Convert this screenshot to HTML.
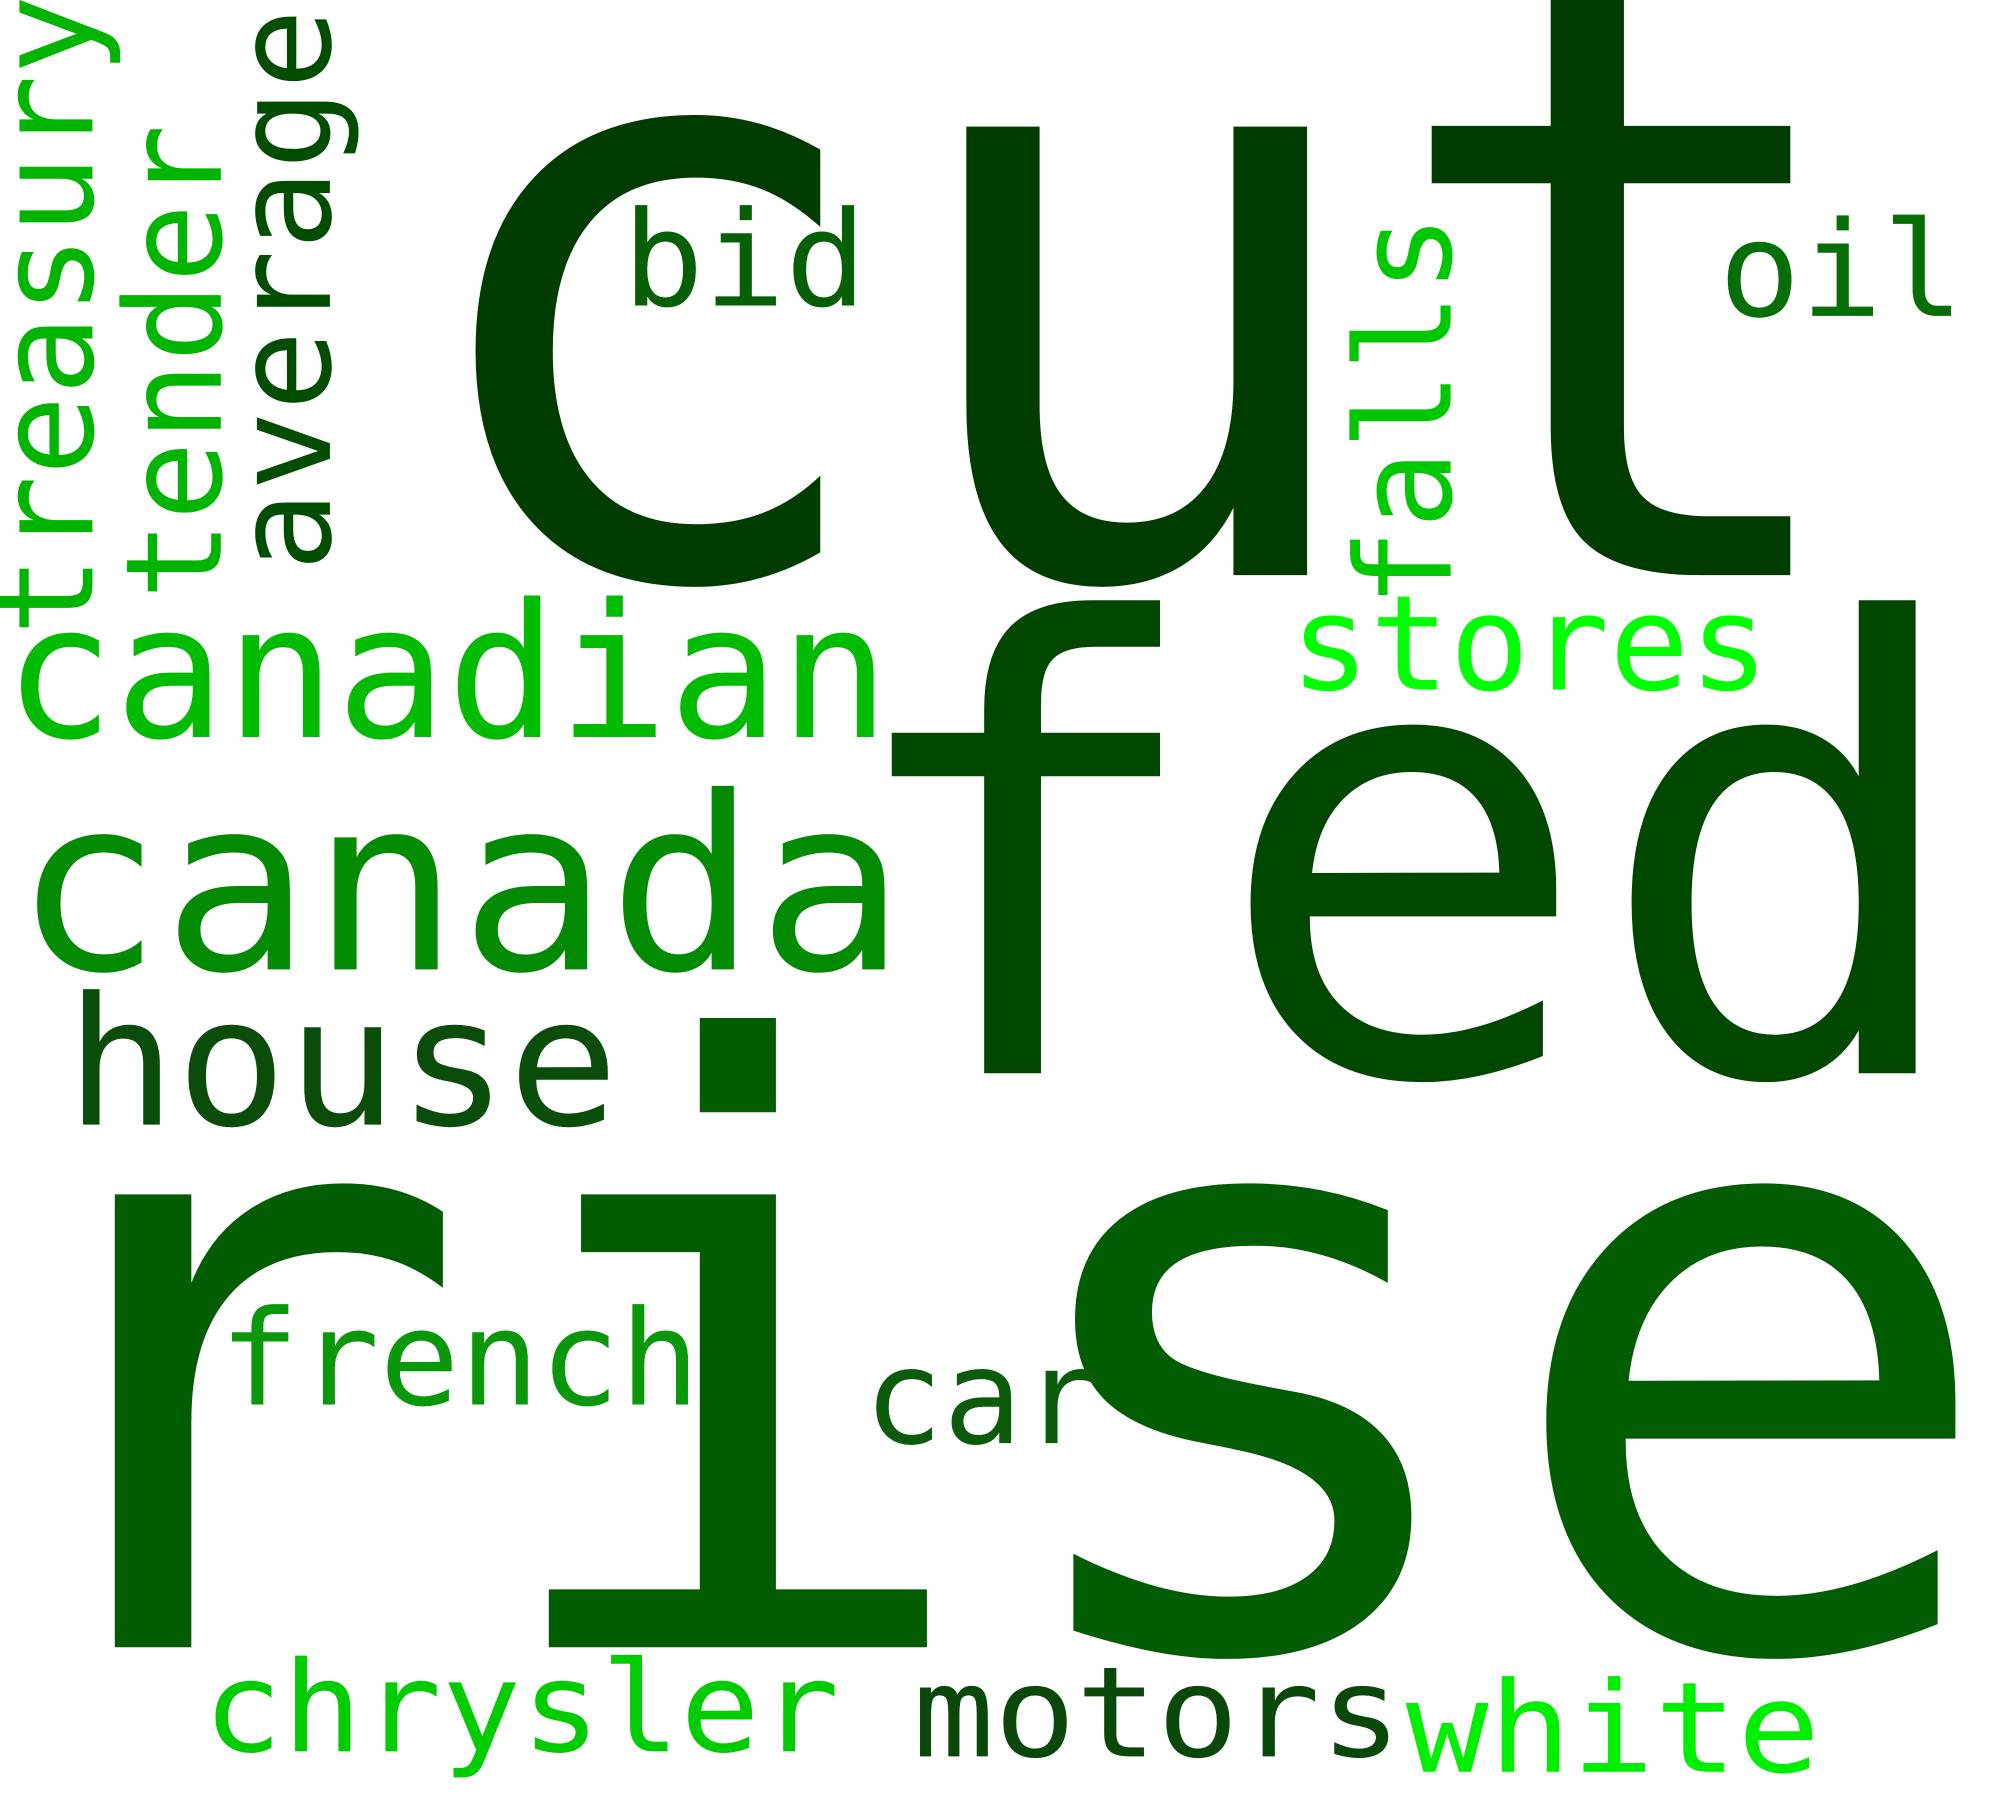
<!DOCTYPE html>
<html><head><meta charset="utf-8"><style>
html,body{margin:0;padding:0;background:#fff;}
svg{display:block;}
text{font-family:"DejaVu Sans Mono","Liberation Mono",monospace;}
</style></head><body>
<svg id="cloud" width="2000" height="1800" viewBox="0 0 1558 1402" preserveAspectRatio="none" xmlns="http://www.w3.org/2000/svg">
<rect width="1558" height="1402" fill="#ffffff"/>
</svg>
<script>
const words = ["cut","fed","rise","canadian","canada","house","french","car","chrysler","motors","white","stores","bid","oil","treasury","tender","average","falls"];
const fontSizes = [640,485,645,145,188,139,103,103,98,98,98,103,103,103,104,104,104,103];
const colors = ["#003c00","#004800","#025c02","#00bb00","#038a03","#0a4d0a","#0a980a","#0a5c0a","#00cc00","#0a480a","#00ee00","#00ff00","#056005","#066e06","#00b400","#00b400","#004d00","#00c800"];
const rotated = [0,0,0,0,0,0,0,0,0,0,0,0,0,0,1,1,1,1];
// layout: ink start, baseline, ink length (display units)
const startPos = [342,672,5,10,20,58,176,678,163,716,1100,1010,490,1344,490,462,440,468];
const baselinePos = [448,836,1283,574,755,876,1094,1124,1364,1368,1380,537,238,246,72,172,257,1130];
const inkLen = [1083,842,1525,676,676,417,364,175,486,371,313,363,180,181,489,360,428,296];

const svg = document.getElementById('cloud');
const NS = 'http://www.w3.org/2000/svg';
for (let i = 0; i < words.length; i++) {
  const t = document.createElementNS(NS, 'text');
  
  
  const fs = fontSizes[i];
  const bear = fs * 0.05;
  t.setAttribute('font-size', fs);
  t.setAttribute('fill', colors[i]);
  t.setAttribute('textLength', inkLen[i] + 2 * bear);
  t.setAttribute('lengthAdjust', 'spacingAndGlyphs');
  t.textContent = words[i];
  if (rotated[i]) {
    t.setAttribute('x', -bear);
    t.setAttribute('y', 0);
    t.setAttribute('transform', 'translate(' + baselinePos[i] + ',' + startPos[i] + ') rotate(-90)');
  } else {
    t.setAttribute('x', startPos[i] - bear);
    t.setAttribute('y', baselinePos[i]);
  }
  svg.appendChild(t);
}
</script>
</body></html>
